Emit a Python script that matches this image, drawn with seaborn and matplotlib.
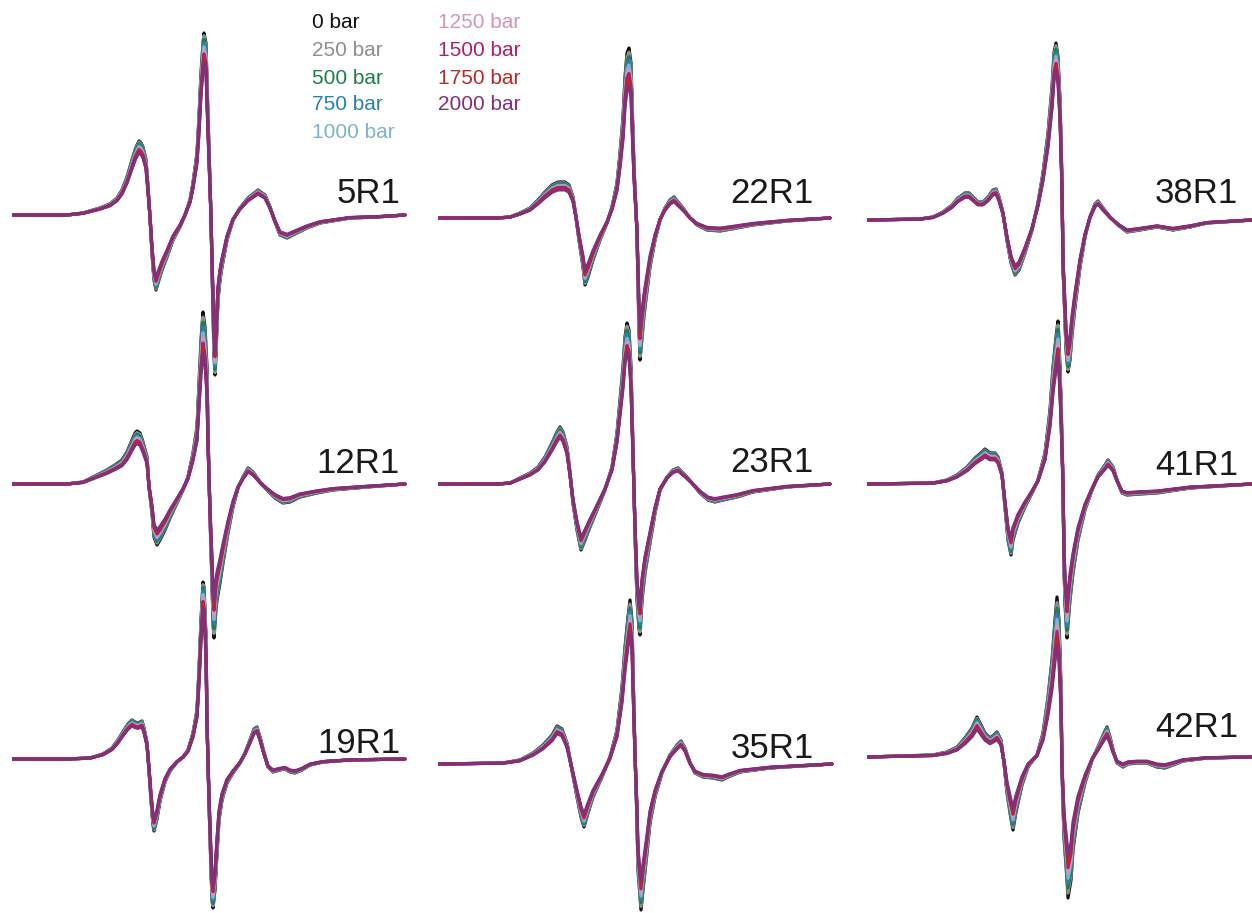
import matplotlib
matplotlib.use("Agg")
import matplotlib.pyplot as plt
import numpy as np
import pandas as pd
import seaborn as sns

# ---------------------------------------------------------------------------
# Pressure series
# ---------------------------------------------------------------------------
pressures = [0, 250, 500, 750, 1000, 1250, 1500, 1750, 2000]
pressure_labels = [f"{p} bar" for p in pressures]
pressure_colors = ["#111111", "#8f8f8f", "#1e7f4c", "#2a80b5", "#7fb3cf",
                   "#d796b4", "#b41e68", "#b8282c", "#82307a"]

# ---------------------------------------------------------------------------
# First-derivative EPR spectra: field offset (arb. units) and 0 bar signal;
# the scale lists give the relative amplitude at each pressure.
# ---------------------------------------------------------------------------
field_5R1 = [1, 55, 71, 88, 98, 105, 110, 115, 120, 123, 125, 127, 129, 131, 134,
             136, 138, 140, 142, 144, 146, 150, 155, 161, 168, 173, 178, 181, 185,
             187, 189, 191, 192, 194, 195, 197, 199, 200, 201, 202, 203, 204, 205,
             206, 208, 210, 215, 221, 228, 236, 241, 246, 253, 258, 263, 268, 275,
             281, 295, 308, 338, 365, 393]
signal_5R1 = [0, 0, 2, 7, 11, 17, 25, 38, 55, 65, 70, 74, 72, 68, 55,
              28, -2, -38, -65, -75, -68, -55, -42, -25, -12, 0, 15, 32, 62,
              98, 142, 172, 182, 172, 132, 65, -2, -52, -95, -140, -160, -140, -110,
              -85, -65, -52, -25, -5, 7, 17, 21, 25, 20, 8, -7, -20, -23,
              -20, -13, -8, -3, -2, 0]
scale_5R1 = [1.00, 0.985, 0.965, 0.945, 0.925, 0.905, 0.885, 0.86, 0.84]

field_12R1 = [0, 55, 71, 81, 95, 103, 110, 115, 120, 123, 125, 128, 131, 135, 137,
              140, 142, 145, 148, 153, 158, 165, 171, 176, 181, 185, 187, 189, 191,
              193, 195, 196, 198, 200, 201, 202, 203, 204, 205, 208, 211, 216, 221,
              226, 231, 236, 241, 248, 255, 263, 271, 278, 288, 305, 321, 355, 393]
signal_12R1 = [0, 0, 2, 7, 14, 19, 24, 32, 44, 51, 53, 51, 42, 27, -3,
               -29, -53, -61, -56, -46, -34, -19, -6, 7, 31, 57, 101, 144, 172,
               157, 117, 51, -33, -99, -140, -154, -140, -125, -116, -99, -79, -49, -23,
               -4, 7, 16, 12, 2, -6, -14, -19, -18, -13, -9, -6, -3, 0]
scale_12R1 = [1.00, 0.97, 0.94, 0.91, 0.88, 0.85, 0.82, 0.79, 0.76]

field_19R1 = [0, 55, 78, 91, 100, 106, 112, 116, 120, 123, 126, 130, 132, 135, 137,
              139, 141, 142, 145, 148, 153, 158, 165, 171, 176, 181, 185, 187, 189,
              191, 192, 194, 195, 197, 199, 200, 201, 203, 205, 207, 210, 215, 221,
              228, 233, 238, 242, 245, 248, 252, 256, 261, 268, 273, 278, 283, 290,
              298, 311, 338, 393]
signal_19R1 = [0, 0, 1, 5, 11, 19, 29, 35, 39, 37, 36, 38, 31, 16, -11,
               -41, -66, -72, -60, -42, -23, -12, -3, 2, 9, 26, 49, 89, 139,
               177, 172, 122, 39, -44, -111, -141, -149, -131, -94, -61, -41, -24, -14,
               -4, 6, 19, 30, 32, 22, 6, -8, -13, -11, -10, -13, -14, -11,
               -6, -3, -1, 0]
scale_19R1 = [1.00, 0.985, 0.97, 0.95, 0.93, 0.91, 0.89, 0.87, 0.85]

field_22R1 = [0, 59, 72, 82, 92, 100, 107, 114, 120, 127, 131, 135, 138, 141, 145,
              147, 150, 155, 162, 169, 174, 179, 182, 185, 187, 189, 191, 193, 194,
              196, 199, 200, 201, 202, 204, 206, 207, 212, 217, 222, 227, 232, 236,
              240, 245, 252, 259, 269, 282, 299, 315, 349, 392]
signal_22R1 = [0, 0, 1, 5, 10, 18, 26, 33, 36, 36, 33, 21, 1, -22, -49,
               -67, -59, -42, -22, -5, 11, 35, 65, 101, 141, 165, 170, 155, 118,
               51, -15, -65, -110, -142, -120, -98, -89, -49, -22, -2, 10, 18, 21,
               16, 10, 0, -7, -12, -13, -10, -7, -3, 0]
scale_22R1 = [1.00, 0.975, 0.95, 0.925, 0.90, 0.875, 0.85, 0.815, 0.78]

field_23R1 = [0, 59, 72, 82, 92, 100, 107, 114, 119, 122, 125, 129, 132, 135, 139,
              143, 147, 152, 159, 167, 174, 179, 182, 185, 187, 189, 191, 193, 195,
              197, 199, 201, 202, 204, 207, 212, 217, 222, 229, 235, 240, 247, 254,
              262, 270, 277, 285, 299, 315, 349, 392]
signal_23R1 = [0, 0, 1, 6, 11, 17, 27, 41, 52, 57, 52, 37, 11, -19, -46,
               -66, -56, -43, -26, -6, 17, 51, 84, 117, 147, 161, 154, 117, 34,
               -49, -116, -145, -151, -116, -89, -59, -29, -6, 7, 14, 16, 9, 1,
               -9, -16, -18, -16, -13, -8, -3, 0]
scale_23R1 = [1.00, 0.98, 0.955, 0.93, 0.905, 0.88, 0.86, 0.84, 0.82]

field_35R1 = [0, 65, 82, 95, 105, 114, 119, 124, 129, 134, 139, 143, 146, 150, 155,
              164, 172, 179, 184, 187, 190, 192, 194, 195, 197, 199, 200, 203, 205,
              209, 212, 217, 224, 232, 239, 243, 247, 252, 257, 265, 275, 284, 290,
              302, 332, 394]
signal_35R1 = [0, 1, 4, 11, 19, 29, 38, 35, 21, -6, -33, -53, -63, -49, -33,
               -13, 7, 34, 77, 117, 147, 164, 144, 94, 11, -56, -106, -146, -126,
               -89, -59, -33, -9, 9, 19, 23, 16, 1, -9, -13, -14, -16, -13,
               -8, -4, 0]
scale_35R1 = [1.00, 0.975, 0.95, 0.93, 0.905, 0.88, 0.855, 0.83, 0.80]

field_38R1 = [0, 53, 66, 76, 85, 91, 98, 102, 106, 111, 116, 121, 126, 129, 132,
              136, 140, 144, 148, 152, 158, 165, 171, 176, 181, 185, 187, 189, 191,
              193, 195, 196, 198, 199, 201, 203, 205, 208, 213, 218, 223, 228, 231,
              236, 243, 251, 260, 273, 290, 306, 323, 340, 385]
signal_38R1 = [0, 1, 3, 8, 15, 22, 27, 27, 23, 18, 18, 23, 30, 31, 23,
               7, -20, -43, -55, -50, -33, -10, 17, 47, 87, 133, 167, 177, 163,
               120, 37, -47, -100, -130, -152, -140, -115, -87, -47, -17, 3, 16, 19,
               12, 3, -5, -12, -10, -7, -10, -7, -3, 0]
scale_38R1 = [1.00, 0.985, 0.965, 0.945, 0.925, 0.905, 0.885, 0.86, 0.84]

field_41R1 = [0, 66, 80, 90, 100, 108, 115, 118, 123, 128, 131, 135, 138, 141, 144,
              146, 151, 158, 165, 171, 178, 183, 186, 189, 191, 192, 194, 196, 197,
              198, 200, 201, 203, 206, 211, 218, 225, 231, 238, 241, 246, 250, 255,
              260, 273, 290, 323, 385]
signal_41R1 = [0, 1, 4, 9, 17, 26, 32, 35, 31, 31, 27, 11, -23, -56, -71,
               -56, -39, -23, -9, 4, 31, 74, 117, 147, 163, 144, 84, 1, -83,
               -120, -154, -140, -116, -89, -56, -26, -6, 9, 19, 24, 17, 4, -9,
               -11, -10, -9, -4, 0]
scale_41R1 = [1.00, 0.975, 0.95, 0.92, 0.89, 0.86, 0.83, 0.805, 0.78]

field_42R1 = [0, 66, 80, 90, 98, 105, 110, 113, 118, 123, 127, 130, 134, 137, 140,
              144, 146, 149, 155, 161, 170, 176, 181, 185, 188, 190, 192, 194, 195,
              197, 200, 201, 204, 206, 211, 218, 225, 231, 237, 240, 243, 246, 250,
              256, 261, 270, 280, 290, 298, 306, 316, 340, 385]
signal_42R1 = [0, 2, 5, 10, 19, 29, 40, 34, 24, 19, 22, 25, 17, -6, -36,
               -62, -73, -55, -28, -10, 2, 24, 60, 97, 137, 160, 137, 70, -13,
               -80, -123, -141, -123, -93, -56, -26, -3, 10, 24, 30, 20, 7, -6,
               -10, -7, -6, -6, -10, -11, -8, -4, -1, 0]
scale_42R1 = [1.00, 0.965, 0.93, 0.895, 0.86, 0.82, 0.785, 0.745, 0.70]

spectra = {
    "5R1": (field_5R1, signal_5R1, scale_5R1),
    "12R1": (field_12R1, signal_12R1, scale_12R1),
    "19R1": (field_19R1, signal_19R1, scale_19R1),
    "22R1": (field_22R1, signal_22R1, scale_22R1),
    "23R1": (field_23R1, signal_23R1, scale_23R1),
    "35R1": (field_35R1, signal_35R1, scale_35R1),
    "38R1": (field_38R1, signal_38R1, scale_38R1),
    "41R1": (field_41R1, signal_41R1, scale_41R1),
    "42R1": (field_42R1, signal_42R1, scale_42R1),
}

# ---------------------------------------------------------------------------
# Layout: three columns, three stacked spectra each
# ---------------------------------------------------------------------------
W, H = 1252, 913
column_left = [12, 438, 867]
column_width = 400
column_panels = [["5R1", "12R1", "19R1"],
                 ["22R1", "23R1", "35R1"],
                 ["38R1", "41R1", "42R1"]]
panel_baseline = {"5R1": 215, "12R1": 484, "19R1": 759,
                  "22R1": 218, "23R1": 484, "35R1": 764,
                  "38R1": 220, "41R1": 484, "42R1": 757}
label_right = [388, 376, 371]
label_lift = {"5R1": 12, "12R1": 11, "19R1": 6,
              "22R1": 15, "23R1": 12, "35R1": 6,
              "38R1": 17, "41R1": 9, "42R1": 20}

sns.set_theme(style="white")
plt.rcParams["font.family"] = ["Liberation Sans", "DejaVu Sans"]

fig = plt.figure(figsize=(W / 100, H / 100), dpi=100)
fig.patch.set_facecolor("white")

for col, names in enumerate(column_panels):
    ax = fig.add_axes([column_left[col] / W, 0, column_width / W, 1])
    ax.set_xlim(0, column_width)
    ax.set_ylim(-H, 0)
    ax.axis("off")
    for name in names:
        field, signal, scale = spectra[name]
        base = panel_baseline[name]
        frames = []
        for lab, s in zip(pressure_labels, scale):
            frames.append(pd.DataFrame({
                "field": field,
                "signal": np.asarray(signal, dtype=float) * s - base,
                "pressure": lab,
            }))
        df = pd.concat(frames, ignore_index=True)
        sns.lineplot(data=df, x="field", y="signal", hue="pressure",
                     hue_order=pressure_labels, palette=pressure_colors,
                     estimator=None, sort=False, legend=False, ax=ax,
                     linewidth=2.3, solid_joinstyle="round", solid_capstyle="round")
        ax.text(label_right[col], -base + label_lift[name], name,
                ha="right", va="baseline", fontsize=25, color="#1a1a1a")

# Pressure key: two columns of coloured text
key_left = [312, 438]
key_rows = [23, 50, 78, 105, 132]
for i, (lab, colr) in enumerate(zip(pressure_labels, pressure_colors)):
    c = 0 if i < 5 else 1
    r = i if i < 5 else i - 5
    fig.text(key_left[c] / W, 1 - key_rows[r] / H, lab, color=colr,
             fontsize=15, ha="left", va="center")

fig.savefig("out.png", dpi=100, facecolor="white")
